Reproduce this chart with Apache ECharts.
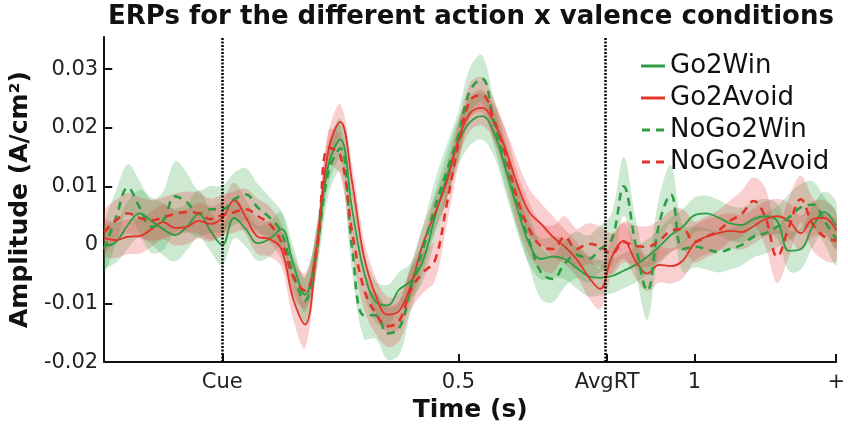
<!DOCTYPE html>
<html>
<head>
<meta charset="utf-8">
<title>ERPs action x valence</title>
<script src="https://cdn.jsdelivr.net/npm/echarts@6/dist/echarts.min.js"></script>
<style>
html,body{margin:0;padding:0;background:#fff;}
#main{width:848px;height:428px;}
</style>
</head>
<body>
<div id="main"></div>
<script>
// time in s, 0 = cue onset
var time = [-0.25,-0.225,-0.2,-0.175,-0.15,-0.125,-0.1,-0.075,-0.05,-0.025,0,0.025,0.05,0.075,0.1,0.125,0.15,0.175,0.2,0.225,0.25,0.275,0.3,0.325,0.35,0.375,0.4,0.425,0.45,0.475,0.5,0.525,0.55,0.575,0.6,0.625,0.65,0.675,0.7,0.725,0.75,0.775,0.8,0.825,0.85,0.875,0.9,0.925,0.95,0.975,1,1.025,1.05,1.075,1.1,1.125,1.15,1.175,1.2,1.225,1.25,1.275,1.3];
var avgRT = 0.815;

// mean amplitude (A/cm2) per condition
var go2win = [-0.0002,0.0005,0.0034,0.0054,0.0041,0.0027,0.0017,0.0031,0.0053,0.0024,0.0000,0.0046,0.0027,0.0003,0.0010,0.0027,-0.0032,-0.0085,-0.0002,0.0137,0.0180,0.0061,-0.0046,-0.0097,-0.0103,-0.0076,-0.0061,-0.0027,0.0047,0.0115,0.0176,0.0210,0.0220,0.0192,0.0129,0.0061,0.0002,-0.0024,-0.0020,-0.0024,-0.0039,-0.0053,-0.0056,-0.0053,-0.0044,-0.0034,-0.0020,-0.0003,0.0017,0.0031,0.0051,0.0054,0.0047,0.0037,0.0034,0.0044,0.0049,0.0041,-0.0010,-0.0007,0.0031,0.0056,0.0032];
var go2avoid = [0.0012,0.0008,0.0014,0.0015,0.0027,0.0039,0.0029,0.0031,0.0041,0.0036,0.0046,0.0076,0.0047,0.0014,0.0010,-0.0007,-0.0092,-0.0136,-0.0003,0.0163,0.0210,0.0107,-0.0020,-0.0086,-0.0119,-0.0112,-0.0066,0.0002,0.0053,0.0107,0.0180,0.0225,0.0234,0.0210,0.0163,0.0103,0.0056,0.0036,0.0014,-0.0003,-0.0024,-0.0054,-0.0075,-0.0020,0.0007,-0.0027,-0.0049,-0.0034,-0.0036,-0.0027,0.0003,0.0014,0.0020,0.0024,0.0022,0.0032,0.0044,0.0049,0.0041,0.0020,0.0044,0.0046,0.0025];
var nogo2win = [-0.0007,0.0047,0.0098,0.0064,0.0031,0.0042,0.0083,0.0073,0.0053,0.0061,0.0061,0.0078,0.0086,0.0064,0.0047,0.0022,-0.0049,-0.0095,-0.0007,0.0125,0.0165,-0.0007,-0.0120,-0.0120,-0.0151,-0.0142,-0.0071,-0.0007,0.0064,0.0125,0.0188,0.0264,0.0284,0.0210,0.0137,0.0066,0.0007,-0.0047,-0.0058,-0.0032,-0.0017,-0.0024,-0.0007,0.0010,0.0100,0.0002,-0.0078,0.0036,0.0086,-0.0007,-0.0003,-0.0007,-0.0012,-0.0007,0.0000,0.0014,0.0020,0.0031,0.0047,0.0064,0.0069,0.0041,0.0010];
var nogo2avoid = [0.0022,0.0042,0.0054,0.0046,0.0042,0.0047,0.0053,0.0056,0.0054,0.0044,0.0051,0.0056,0.0061,0.0049,0.0036,0.0005,-0.0054,-0.0078,-0.0007,0.0166,0.0153,0.0022,-0.0075,-0.0117,-0.0139,-0.0129,-0.0075,-0.0047,-0.0027,0.0068,0.0171,0.0247,0.0256,0.0214,0.0154,0.0078,0.0027,-0.0002,-0.0007,0.0014,-0.0007,0.0002,-0.0003,-0.0015,0.0005,-0.0002,-0.0003,0.0007,0.0024,0.0027,0.0005,0.0014,0.0024,0.0041,0.0053,0.0075,0.0047,-0.0020,0.0031,0.0078,0.0036,0.0014,0.0007];

// standard error (half width of the shaded bands)
var go2winSE = [0.0035,0.0035,0.0040,0.0040,0.0040,0.0045,0.0045,0.0040,0.0040,0.0035,0.0035,0.0035,0.0030,0.0030,0.0030,0.0030,0.0030,0.0030,0.0030,0.0035,0.0035,0.0035,0.0035,0.0035,0.0035,0.0030,0.0030,0.0035,0.0040,0.0040,0.0040,0.0040,0.0040,0.0040,0.0040,0.0040,0.0035,0.0035,0.0035,0.0035,0.0035,0.0035,0.0030,0.0030,0.0030,0.0030,0.0030,0.0030,0.0030,0.0030,0.0030,0.0030,0.0030,0.0030,0.0030,0.0030,0.0030,0.0030,0.0035,0.0035,0.0035,0.0035,0.0040];
var go2avoidSE = [0.0030,0.0030,0.0030,0.0030,0.0030,0.0030,0.0030,0.0030,0.0030,0.0030,0.0030,0.0030,0.0030,0.0030,0.0030,0.0030,0.0035,0.0040,0.0035,0.0030,0.0030,0.0030,0.0030,0.0030,0.0030,0.0030,0.0030,0.0030,0.0030,0.0030,0.0030,0.0030,0.0030,0.0030,0.0035,0.0040,0.0040,0.0035,0.0035,0.0030,0.0030,0.0035,0.0035,0.0030,0.0030,0.0030,0.0030,0.0030,0.0030,0.0030,0.0030,0.0030,0.0030,0.0030,0.0030,0.0030,0.0030,0.0030,0.0030,0.0030,0.0030,0.0030,0.0030];
var nogo2winSE = [0.0040,0.0045,0.0040,0.0045,0.0045,0.0050,0.0060,0.0050,0.0040,0.0040,0.0040,0.0045,0.0045,0.0040,0.0035,0.0035,0.0035,0.0040,0.0040,0.0040,0.0040,0.0040,0.0040,0.0040,0.0045,0.0045,0.0040,0.0040,0.0045,0.0045,0.0040,0.0040,0.0040,0.0040,0.0040,0.0040,0.0045,0.0045,0.0040,0.0040,0.0040,0.0040,0.0040,0.0045,0.0050,0.0045,0.0050,0.0045,0.0050,0.0040,0.0035,0.0035,0.0035,0.0035,0.0035,0.0035,0.0035,0.0035,0.0040,0.0040,0.0040,0.0040,0.0045];
var nogo2avoidSE = [0.0035,0.0035,0.0035,0.0035,0.0035,0.0035,0.0035,0.0035,0.0035,0.0035,0.0035,0.0035,0.0035,0.0030,0.0030,0.0030,0.0030,0.0030,0.0030,0.0030,0.0035,0.0035,0.0035,0.0035,0.0035,0.0035,0.0035,0.0035,0.0035,0.0035,0.0035,0.0030,0.0030,0.0035,0.0040,0.0045,0.0045,0.0040,0.0040,0.0035,0.0035,0.0035,0.0035,0.0035,0.0035,0.0035,0.0035,0.0035,0.0035,0.0035,0.0035,0.0035,0.0035,0.0035,0.0040,0.0040,0.0050,0.0045,0.0050,0.0040,0.0045,0.0040,0.0035];

// axis ticks
var xTicks = [0, 0.5, avgRT, 1, 1.3];
var xTickLabels = ['Cue', '0.5', 'AvgRT', '1', '+'];
var yTicks = [-0.02, -0.01, 0, 0.01, 0.02, 0.03];
var yTickLabels = ['-0.02', '-0.01', '0', '0.01', '0.02', '0.03'];

var green = '#2e9e44';
var red = '#e2352a';
var greenBand = 'rgba(45,165,65,0.24)';
var redBand = 'rgba(232,55,55,0.24)';

function pairs(arr) {
	var out = [];
	for (var i = 0; i < time.length; i++) out.push([time[i], arr[i]]);
	return out;
}

// shaded band (mean +/- se) drawn as one polygon through the axis scales
function band(mean, se, color) {
	return {
		type: 'custom', silent: true, z: 1, clip: true,
		data: [[0, 0]],
		encode: {x: 0, y: 1},
		renderItem: function (params, api) {
			var upper = [], lower = [];
			for (var i = 0; i < time.length; i++) {
				upper.push(api.coord([time[i], mean[i] + se[i]]));
				lower.push(api.coord([time[i], mean[i] - se[i]]));
			}
			return {
				type: 'polygon',
				shape: {points: upper.concat(lower.reverse()), smooth: 0.35},
				style: {fill: color}
			};
		}
	};
}

function line(name, mean, color, dashed) {
	return {
		name: name, type: 'line', data: pairs(mean), smooth: 0.4,
		symbol: 'none', showSymbol: false, z: 3,
		lineStyle: {color: color, width: dashed ? 2.6 : 1.8, type: dashed ? [8, 6] : 'solid'},
		itemStyle: {color: color}
	};
}

var series = [
	band(go2win, go2winSE, greenBand),
	band(go2avoid, go2avoidSE, redBand),
	band(nogo2win, nogo2winSE, greenBand),
	band(nogo2avoid, nogo2avoidSE, redBand),
	line('Go2Win', go2win, green, false),
	line('Go2Avoid', go2avoid, red, false),
	line('NoGo2Win', nogo2win, green, true),
	line('NoGo2Avoid', nogo2avoid, red, true)
];

// dotted markers at cue and average RT
series[series.length - 1].markLine = {
	silent: true, symbol: ['none', 'none'], label: {show: false},
	lineStyle: {color: '#000', type: [2, 1.5], width: 2.5, opacity: 1},
	data: [{xAxis: 0}, {xAxis: avgRT}]
};

function pickLabel(ticks, labels) {
	return function (v) {
		for (var i = 0; i < ticks.length; i++) {
			if (Math.abs(ticks[i] - v) < 1e-9) return labels[i];
		}
		return '';
	};
}

var solidIcon = 'path://M0,0H24V3H0Z';
var dashIcon = 'path://M0,0H8V3H0Z M14,0H22V3H14Z';

var chart = echarts.init(document.getElementById('main'));
chart.setOption({
	animation: false,
	textStyle: {fontFamily: 'DejaVu Sans'},
	title: {
		text: 'ERPs for the different action x valence conditions',
		left: 471, top: 4, textAlign: 'center', padding: 0,
		textStyle: {fontSize: 26, fontWeight: 'bold', color: '#111', fontFamily: 'DejaVu Sans'}
	},
	legend: {
		orient: 'vertical', left: 636, top: 48,
		itemWidth: 24, itemHeight: 3, itemGap: 6,
		data: [
			{name: 'Go2Win', icon: solidIcon},
			{name: 'Go2Avoid', icon: solidIcon},
			{name: 'NoGo2Win', icon: dashIcon},
			{name: 'NoGo2Avoid', icon: dashIcon}
		],
		textStyle: {fontSize: 26, lineHeight: 25, color: '#111', fontFamily: 'DejaVu Sans'}
	},
	grid: {left: 103, right: 8, top: 37, bottom: 64},
	xAxis: {
		type: 'value', min: -0.25, max: 1.3,
		name: 'Time (s)', nameLocation: 'middle', nameGap: 33,
		nameTextStyle: {fontSize: 25, fontWeight: 'bold', color: '#111'},
		axisLine: {onZero: false, lineStyle: {color: '#111', width: 2}},
		axisTick: {inside: true, length: 8, customValues: xTicks, lineStyle: {color: '#111', width: 2}},
		axisLabel: {customValues: xTicks, formatter: pickLabel(xTicks, xTickLabels), fontSize: 21, color: '#222', margin: 10},
		splitLine: {show: false}
	},
	yAxis: {
		type: 'value', min: -0.02, max: 0.0355,
		name: 'Amplitude (A/cm²)', nameLocation: 'middle', nameGap: 66, nameRotate: 90,
		nameTextStyle: {fontSize: 25, fontWeight: 'bold', color: '#111'},
		axisLine: {show: true, onZero: false, lineStyle: {color: '#111', width: 2}},
		axisTick: {show: true, inside: true, length: 8, customValues: yTicks, lineStyle: {color: '#111', width: 2}},
		axisLabel: {customValues: yTicks, formatter: pickLabel(yTicks, yTickLabels), fontSize: 21, color: '#222', margin: 6},
		splitLine: {show: false}
	},
	series: series
});
</script>
</body>
</html>
